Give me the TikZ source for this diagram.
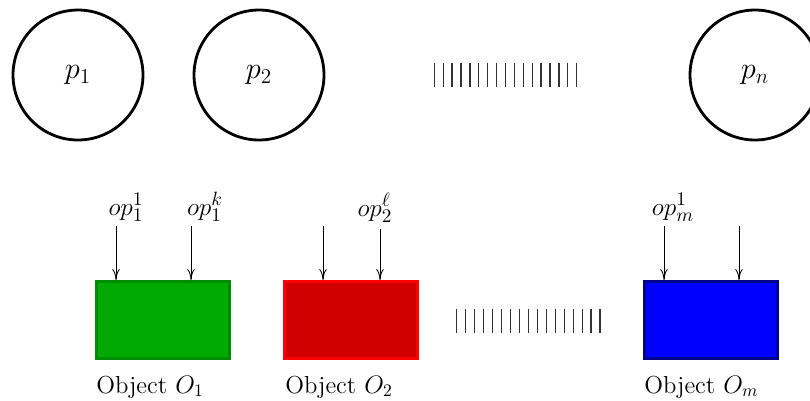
\documentclass[tikz,border=0pt]{standalone}
\usetikzlibrary{arrows.meta, positioning}

\definecolor{objgreen}{RGB}{0,170,0}
\definecolor{objgreenline}{RGB}{0,140,0}
\definecolor{objred}{RGB}{208,0,0}
\definecolor{objredline}{RGB}{255,0,0}
\definecolor{objblue}{RGB}{0,0,255}
\definecolor{objblueline}{RGB}{0,0,140}

\begin{document}
\begin{tikzpicture}[
    x=0.02cm, y=-0.02cm,
    proc/.style={circle, draw=black, line width=1.6pt, minimum size=2.6cm, inner sep=0pt, font=\fontsize{18}{21}\selectfont},
    object/.style={rectangle, line width=1.6pt, minimum width=2.66cm, minimum height=1.54cm, inner sep=0pt},
    objlabel/.style={anchor=base west, inner sep=0pt, font=\fontsize{14}{16}\selectfont},
    oplabel/.style={anchor=base, inner sep=0pt, font=\fontsize{15.5}{18}\selectfont},
    oparrow/.style={-{To[length=2.2mm, width=1.5mm]}, line width=0.5pt},
    tick/.style={line width=0.7pt, black!80}
]
\useasboundingbox (0,0) rectangle (810,400);

% processes
\node (p1) [proc] at (78,75) {$p_1$};
\node (p2) [proc] at (259,75) {$p_2$};
\node (pn) [proc] at (755,75) {$p_n$};
\foreach \i in {0,...,16}
    \draw[tick] (434.3+8.9*\i,63) -- ++(0,24);

% objects
\node (obj1) [object, draw=objgreenline, fill=objgreen] at (163,320) {};
\node (obj2) [object, draw=objredline, fill=objred] at (351,320) {};
\node (objm) [object, draw=objblueline, fill=objblue] at (711,320) {};
\foreach \i in {0,...,16}
    \draw[tick] (456.7+8.96*\i,309) -- ++(0,24);

\node (lobj1) [objlabel] at (96,393) {Object $O_1$};
\node (lobj2) [objlabel] at (285,393) {Object $O_2$};
\node (lobjm) [objlabel] at (644,393) {Object $O_m$};

% operations
\coordinate (a11) at (116,226);
\coordinate (a1k) at (191,226);
\coordinate (a21) at (323,226);
\coordinate (a2l) at (380,229);
\coordinate (am1) at (664,226);
\coordinate (am2) at (739,226);

\node (op11) [oplabel] at (126,215) {$op_1^1$};
\node (op1k) [oplabel] at (205,215) {$op_1^k$};
\node (op2l) [oplabel] at (375,216) {$op_2^\ell$};
\node (opm1) [oplabel] at (673,215) {$op_m^1$};

\draw [oparrow] (a11) -- (a11 |- obj1.north);
\draw [oparrow] (a1k) -- (a1k |- obj1.north);
\draw [oparrow] (a21) -- (a21 |- obj2.north);
\draw [oparrow] (a2l) -- (a2l |- obj2.north);
\draw [oparrow] (am1) -- (am1 |- objm.north);
\draw [oparrow] (am2) -- (am2 |- objm.north);

\end{tikzpicture}
\end{document}
